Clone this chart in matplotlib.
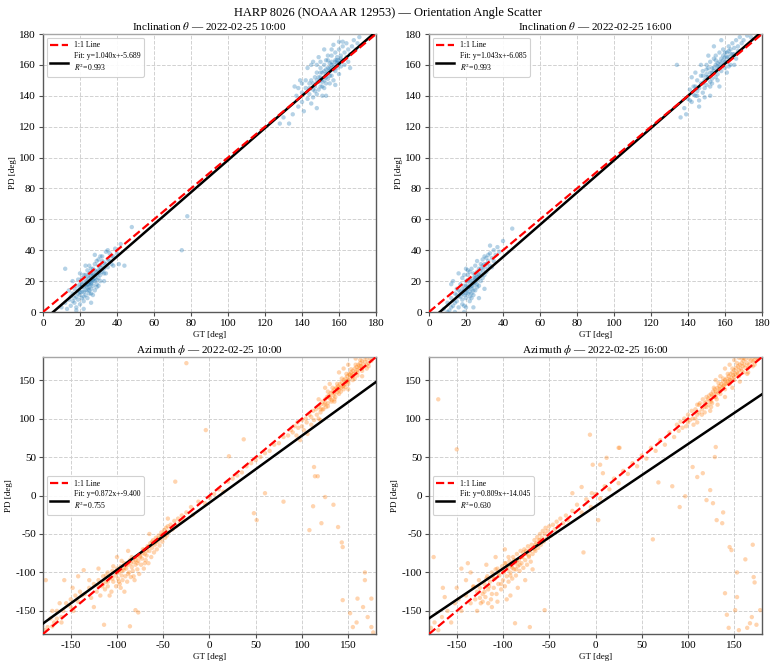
import matplotlib
matplotlib.use("Agg")
import matplotlib.pyplot as plt
import numpy as np

plt.rcParams['font.family'] = ['Liberation Serif', 'DejaVu Serif']
plt.rcParams['mathtext.fontset'] = 'stix'
plt.rcParams['axes.unicode_minus'] = False

# ---------------- data ----------------
suptitle = "HARP 8026 (NOAA AR 12953) — Orientation Angle Scatter"
titles = [r"Inclination $\theta$ — 2022-02-25 10:00", r"Inclination $\theta$ — 2022-02-25 16:00",
          r"Azimuth $\phi$ — 2022-02-25 10:00", r"Azimuth $\phi$ — 2022-02-25 16:00"]
fit_slopes = [1.040, 1.043, 0.872, 0.809]
fit_intercepts = [-5.689, -6.085, -9.400, -14.045]
fit_r2 = [0.993, 0.993, 0.755, 0.630]
inc_ticks = [0, 20, 40, 60, 80, 100, 120, 140, 160, 180]
azi_ticks = [-150, -100, -50, 0, 50, 100, 150]

inc10_low = [(14,8),(15,4),(16,12),(17,6),(17,15),(18,10),(18,3),(19,14),(19,8),(20,18),(20,11),(20,5),
             (21,16),(21,9),(21,22),(22,13),(22,19),(22,7),(23,17),(23,24),(23,11),(24,20),(24,14),(24,27),
             (24,9),(25,22),(25,16),(25,19),(25,30),(25,12),(26,21),(26,25),(26,15),(26,18),(27,23),(27,28),
             (27,17),(27,11),(28,24),(28,20),(28,31),(28,14),(29,26),(29,21),(29,33),(30,27),(30,22),(30,17),
             (30,34),(31,29),(31,24),(31,20),(32,30),(32,26),(32,36),(33,28),(33,32),(34,31),(34,25),(35,34),
             (35,29),(36,33),(36,38),(37,31),(38,36),(39,41),(40,38),(42,44),(12,28),(13,2),(16,20),(18,1),
             (22,2),(26,6),(20,25),(33,20),(28,37),(23,30),(35,40),(19,21),(48,55),(44,30),(24,18),(26,23),
             (27,20),(25,25),(29,18),(21,13),(23,21),(30,30),(18,17),(15,10),(31,36),(34,39),(41,31),
             (22,16),(23,18),(24,16),(25,18),(26,19),(27,21),(28,22),(25,14),(23,14),(21,18),(20,16),
             (22,24),(26,28),(28,27),(30,25),(32,33),(24,23),(27,25),(29,24),(31,27),(20,13),(19,12),
             (17,9),(16,7),(26,12),(29,16),(33,25),(22,10),(14,14),(12,6),(10,3),(37,36),(38,30)]
inc10_high = [(135,128),(137,140),(138,133),(140,142),(140,136),(141,130),(142,145),(143,138),(144,148),
              (144,141),(145,135),(145,150),(146,144),(146,139),(147,152),(147,146),(148,141),(148,155),
              (149,149),(149,144),(150,158),(150,152),(150,146),(151,140),(151,155),(152,150),(152,160),
              (152,145),(153,154),(153,148),(154,158),(154,163),(154,151),(155,156),(155,148),(155,161),
              (156,153),(156,166),(156,158),(157,160),(157,150),(158,163),(158,156),(158,168),(159,158),
              (159,165),(160,161),(160,154),(160,170),(161,166),(161,159),(162,163),(162,172),(163,168),
              (163,160),(164,165),(164,174),(165,170),(165,162),(166,167),(167,172),(168,176),(169,170),
              (170,174),(171,178),(130,126),(133,122),(128,122),(143,158),(146,162),(149,165),(152,170),
              (148,132),(153,140),(158,147),(162,175),(139,150),(157,173),(166,158),(150,162),(145,160),
              (75,40),(78,62),(154,166),(151,149),(156,162),(153,157),(159,161),
              (150,155),(152,156),(154,155),(156,160),(158,162),(148,150),(146,148),(150,150),(153,152),
              (155,158),(157,157),(160,163),(144,145),(147,143),(151,146),(149,152),(155,153),(159,163),
              (161,164),(153,163),(148,160),(156,170),(160,175),(142,150),(140,148),(138,145),(136,146)]

inc16_low = [(8,2),(10,6),(11,1),(12,9),(13,4),(14,12),(14,0),(15,7),(15,15),(16,10),(16,3),(17,13),
             (17,18),(18,8),(18,15),(18,22),(19,11),(19,17),(19,4),(20,14),(20,20),(20,9),(21,16),(21,24),
             (21,12),(22,18),(22,13),(22,26),(22,7),(23,20),(23,15),(23,28),(24,22),(24,17),(24,11),(25,24),
             (25,19),(25,30),(25,14),(26,26),(26,21),(26,33),(27,23),(27,28),(27,17),(28,25),(28,31),(28,20),
             (29,27),(29,34),(29,22),(30,29),(30,24),(30,36),(31,31),(31,26),(32,33),(32,28),(33,38),(33,30),
             (34,35),(35,33),(35,40),(36,37),(37,42),(38,39),(12,18),(16,25),(20,28),(24,3),(27,9),(30,15),
             (45,54),(40,46),(19,0),(23,9),(21,20),(25,22),(26,16),(24,25),(22,21),(20,3),(13,20),(33,43),
             (18,12),(19,14),(20,17),(21,15),(22,16),(23,17),(24,19),(25,21),(26,23),(27,24),(20,12),
             (18,5),(17,10),(16,14),(15,11),(23,12),(22,10),(24,14),(26,18),(28,28),(29,30),(30,31),
             (31,35),(32,37),(21,27),(19,24),(14,6),(12,3),(10,0),(34,29)]
inc16_high = [(138,132),(140,138),(141,144),(142,136),(143,146),(144,140),(145,150),(145,143),(146,137),
              (147,148),(147,153),(148,142),(148,156),(149,150),(149,145),(150,154),(150,160),(150,147),
              (151,152),(151,158),(152,149),(152,162),(153,155),(153,148),(154,158),(154,164),(155,152),
              (155,160),(155,166),(156,157),(156,150),(157,162),(157,168),(158,156),(158,164),(159,160),
              (159,170),(160,165),(160,158),(161,168),(161,162),(162,172),(162,165),(163,160),(163,170),
              (164,174),(164,167),(165,171),(166,176),(166,164),(167,172),(168,178),(169,174),(170,176),
              (172,179),(174,178),(144,155),(147,160),(151,166),(154,172),(158,176),(146,133),(152,140),
              (157,146),(161,155),(165,160),(134,160),(136,126),(139,128),(153,151),(156,161),(159,166),
              (149,139),(162,159),(142,152),
              (150,152),(152,155),(154,156),(156,159),(158,161),(160,162),(148,148),(146,145),(144,146),
              (153,158),(155,163),(157,159),(159,163),(161,165),(163,167),(150,157),(148,153),(152,146),
              (156,154),(160,168),(162,169),(145,140),(143,141),(141,137),(165,167),(167,169)]

azi10 = [(-135,-128),(-130,-120),(-128,-133),(-125,-115),(-122,-125),(-120,-110),(-118,-130),(-116,-118),
         (-115,-105),(-113,-122),(-112,-112),(-110,-100),(-110,-118),(-108,-108),(-106,-125),(-105,-98),
         (-104,-112),(-102,-104),(-101,-118),(-100,-95),(-99,-108),(-98,-100),(-97,-115),(-96,-92),
         (-95,-104),(-94,-110),(-93,-97),(-92,-88),(-91,-105),(-90,-95),(-89,-112),(-88,-90),(-87,-100),
         (-86,-84),(-85,-106),(-84,-93),(-83,-98),(-82,-86),(-81,-110),(-80,-90),(-79,-80),(-78,-96),
         (-77,-85),(-76,-102),(-75,-78),(-74,-90),(-73,-82),(-72,-75),(-71,-95),(-70,-70),(-69,-84),
         (-68,-78),(-67,-66),(-66,-88),(-65,-72),(-64,-62),(-63,-80),(-62,-68),(-61,-58),(-60,-74),
         (-59,-64),(-58,-55),(-57,-70),(-56,-60),(-55,-52),(-54,-65),(-53,-56),(-52,-48),(-51,-60),
         (-50,-50),(-49,-45),(-48,-55),(-47,-42),(-46,-52),(-45,-40),(-44,-47),(-42,-38),(-40,-44),
         (-38,-33),(-36,-40),(-34,-30),(-32,-35),(-30,-26),(-28,-32),
         (-25,-22),(-20,-15),(-18,-25),(-12,-8),(-5,-10),(0,-3),(5,2),(10,8),(15,5),(20,18),(25,22),
         (30,26),(35,30),(40,38),(45,42),(50,46),(55,50),(60,55),(65,58),(70,66),(75,68),(80,76),(85,78),
         (88,85),(90,82),(92,90),(94,78),(95,95),(96,88),(98,72),(100,98),(100,90),(102,85),(104,100),
         (105,95),(106,80),(108,105),(110,102),(110,92),(112,110),(113,98),(115,112),(116,105),(118,115),
         (118,100),(120,118),(120,108),(122,122),(123,112),(124,118),(125,125),(126,115),(127,128),
         (128,120),(129,130),(130,126),(131,133),(132,124),(133,135),(134,130),(135,138),(136,128),
         (137,140),(138,134),(139,142),(140,137),(141,145),(142,140),(143,147),(144,142),(145,150),
         (146,145),(147,152),(148,148),(149,155),(150,150),(151,158),(152,153),(153,160),(154,156),
         (155,162),(156,158),(157,165),(158,160),(159,167),(160,163),(161,170),(162,165),(163,172),
         (164,168),(165,175),(166,170),(168,174),(170,177),(172,172),(174,178),(140,160),(150,170),
         (130,145),(145,165),(158,178),(125,140),(120,98),(135,122),(150,138),(165,155),
         (113,37),(117,25),(112,-14),(125,-2),(134,-12),(108,-45),(121,-36),(139,-41),(143,-61),(144,-67),
         (168,-100),(168,-110),(144,-136),(160,-134),(175,-134),(152,-153),(155,-171),(166,-145),
         (171,-158),(175,-171),(177,-178),(159,-165),(80,-8),(60,3),(48,-23),(51,-32),(37,73),(-4,85),
         (21,51),(114,25),(-178,-175),(-175,-171),(-172,-160),(-168,-165),(-165,-150),(-160,-158),
         (-155,-140),(-150,-145),(-145,-130),(-140,-125),(-177,-110),(-157,-110),(-136,-97),(-130,-110),
         (-125,-145),(-114,-168),(-86,-170),(-80,-149),(-77,-152),(-37,18),(-25,172),(-92,-125),
         (-100,-80),(-88,-72),(-120,-95),(-108,-130),(-95,-85),(-82,-105),(-70,-88),(-65,-50),(-45,-30)]
azi10_dense = [(120,112),(125,120),(130,128),(135,133),(140,140),(145,143),(150,148),(155,155),(160,160),
               (165,165),(170,170),(128,135),(133,140),(138,145),(143,152),(148,158),(153,164),(158,170),
               (163,176),(135,125),(140,132),(145,138),(150,145),(155,150),(160,156),(165,162),(170,165),
               (175,175),(168,180),(172,168),(142,135),(147,141),(152,157),(157,152),(162,168),(118,125),
               (122,112),(128,116),(132,122),(138,138),
               (-100,-100),(-95,-98),(-90,-90),(-85,-88),(-80,-84),(-75,-80),(-70,-76),(-65,-66),(-60,-62),
               (-55,-56),(-105,-108),(-110,-112),(-115,-115),(-120,-118),(-88,-102),(-92,-94),(-78,-88),
               (-72,-70),(-68,-72),(-62,-60),(-58,-60),(-52,-52),(-98,-112),(-84,-80),(-96,-120),(-104,-92),
               (-112,-104),(-170,-170),(-165,-160),(-160,-165),(-162,-140),(-158,-150),(-150,-135),
               (-147,-150),(-142,-138),(-138,-130),(-148,-120),(-142,-105),(-170,-150)]

azi16 = [(-140,-130),(-135,-140),(-132,-118),(-130,-135),(-128,-125),(-126,-110),(-124,-140),(-122,-128),
         (-120,-115),(-119,-132),(-117,-105),(-116,-122),(-114,-112),(-113,-135),(-112,-100),(-110,-120),
         (-109,-108),(-107,-128),(-106,-95),(-105,-115),(-104,-104),(-102,-122),(-101,-92),(-100,-110),
         (-99,-100),(-98,-118),(-97,-88),(-96,-105),(-95,-96),(-94,-112),(-93,-85),(-92,-100),(-91,-92),
         (-90,-108),(-89,-80),(-88,-96),(-87,-88),(-86,-104),(-85,-76),(-84,-92),(-83,-84),(-82,-98),
         (-81,-72),(-80,-88),(-79,-80),(-78,-94),(-77,-70),(-76,-84),(-75,-76),(-74,-90),(-73,-66),
         (-72,-80),(-71,-72),(-70,-86),(-69,-64),(-68,-76),(-67,-68),(-66,-58),(-65,-72),(-64,-62),
         (-63,-54),(-62,-68),(-61,-58),(-60,-50),(-59,-64),(-58,-55),(-57,-46),(-56,-60),(-55,-50),
         (-54,-42),(-53,-56),(-52,-46),(-50,-40),(-48,-52),(-46,-38),(-44,-44),(-42,-34),(-40,-40),
         (-38,-30),(-35,-36),(-32,-26),(-30,-32),(-150,-120),(-145,-150),(-140,-110),(-135,-100),
         (-128,-150),(-118,-90),(-108,-80),(-98,-70),(-92,-130),(-84,-120),(-76,-110),(-68,-96),
         (-25,-20),(-20,-12),(-15,-22),(-10,-5),(-5,-15),(0,2),(5,-4),(10,12),(15,8),(20,22),(25,16),
         (30,32),(35,28),(40,42),(45,38),(50,52),(55,48),(60,62),(65,58),(70,72),(75,66),(80,82),(85,76),
         (88,92),(90,84),(92,96),(94,88),(96,100),(98,90),(100,105),(100,95),(102,98),(104,110),(105,100),
         (106,92),(108,112),(110,105),(110,118),(112,108),(113,120),(115,112),(116,125),(118,115),
         (118,108),(120,122),(120,128),(122,118),(123,130),(124,124),(125,132),(126,120),(127,135),
         (128,128),(129,138),(130,132),(131,125),(132,140),(133,134),(134,142),(135,136),(136,145),
         (137,140),(138,148),(139,143),(140,150),(141,145),(142,152),(143,148),(144,155),(145,150),
         (146,158),(147,153),(148,160),(149,156),(150,163),(151,158),(152,166),(153,160),(154,168),
         (155,163),(156,170),(157,165),(158,172),(159,168),(160,175),(161,170),(162,177),(164,172),
         (166,178),(168,175),(170,179),(172,176),(174,179),(150,176),(155,179),(145,170),(140,165),
         (160,179),(135,155),(130,150),(165,160),(110,95),(125,115),(130,63),(129,50),(105,37),(110,24),
         (116,29),(124,7),(120,-6),(127,-10),(131,-32),(137,-36),(138,-22),(91,-15),(97,-1),(83,12),
         (68,17),(62,-57),(145,-67),(147,-71),(162,-83),(170,-64),(153,-100),(171,-106),(172,-113),
         (140,-127),(153,-132),(142,-155),(151,-149),(169,-158),(174,-168),(164,-172),(144,-172),
         (178,-149),(155,-175),(167,-166),(-3,40),(5,40),(12,49),(8,29),(3,-32),(25,62),(-6,79),(26,62),
         (-175,-80),(-163,-132),(-132,-119),(-125,-133),(-112,-145),(-71,-171),(-55,-149),(-87,-166),
         (-13,-74),(-25,3),(-4,3),(-15,11),(-170,125),(-150,60),(-178,-172),(-174,-165),(-170,-175),
         (-166,-158),(-160,-150),(-156,-165),(-152,-140),(-148,-135),(-165,-120),(-145,-95),(-138,-88)]
azi16_dense = [(118,120),(122,126),(126,130),(130,135),(134,138),(138,142),(142,146),(146,150),(150,154),
               (154,158),(158,162),(162,166),(166,170),(170,174),(120,115),(125,122),(130,128),(135,132),
               (140,138),(145,145),(150,150),(155,155),(160,160),(165,166),(170,168),(128,140),(133,146),
               (138,152),(143,158),(148,165),(153,172),(158,178),(124,110),(132,118),(140,128),(148,140),
               (156,148),(164,158),(172,170),(176,178),(112,118),(108,100),(115,105),
               (-100,-98),(-95,-92),(-90,-94),(-85,-86),(-80,-80),(-75,-72),(-70,-70),(-65,-64),(-60,-58),
               (-105,-102),(-110,-108),(-115,-118),(-120,-125),(-125,-120),(-92,-104),(-88,-84),(-82,-90),
               (-78,-74),(-72,-78),(-66,-70),(-102,-115),(-108,-96),(-112,-128),(-118,-108),(-98,-88),
               (-94,-80),(-86,-96),(-122,-138),(-116,-140),(-106,-138),(-96,-135)]

# ---------------- plotting ----------------
fig = plt.figure(figsize=(7.76, 6.67), dpi=100)
W, H = 776, 667
boxes = [(43, 34, 376, 312), (429, 34, 762, 312), (43, 357, 376, 634), (429, 357, 762, 634)]

panels = [
    (inc10_low + inc10_high, '#1f77b4', (0, 180), inc_ticks, 'upper left'),
    (inc16_low + inc16_high, '#1f77b4', (0, 180), inc_ticks, 'upper left'),
    (azi10 + azi10_dense, '#ff7f0e', (-180, 180), azi_ticks, 'center left'),
    (azi16 + azi16_dense, '#ff7f0e', (-180, 180), azi_ticks, 'center left'),
]

for i, ((pts, col, lim, ticks, loc), (x0, y0, x1, y1)) in enumerate(zip(panels, boxes)):
    ax = fig.add_axes([x0 / W, 1 - y1 / H, (x1 - x0) / W, (y1 - y0) / H])
    arr = np.array(pts, dtype=float)
    ax.scatter(arr[:, 0], arr[:, 1], s=10, color=col, alpha=0.33, edgecolors='none', zorder=2)
    xs = np.array(lim, dtype=float)
    ax.plot(xs, xs, '--', color='red', lw=1.6, label='1:1 Line', zorder=4)
    ax.plot(xs, fit_slopes[i] * xs + fit_intercepts[i], '-', color='black', lw=1.8, zorder=3,
            label=f"Fit: y={fit_slopes[i]:.3f}x+{fit_intercepts[i]:.3f}\n$R^2$={fit_r2[i]:.3f}")
    ax.set_xlim(lim)
    ax.set_ylim(lim)
    ax.set_xticks(ticks)
    ax.set_yticks(ticks)
    ax.tick_params(labelsize=8, length=3, width=0.8, color='0.3', pad=2)
    ax.grid(True, ls='--', color='0.82', lw=0.7, zorder=0)
    ax.set_axisbelow(True)
    for s in ax.spines.values():
        s.set_color('0.35')
        s.set_linewidth(1.0)
    ax.spines['top'].set_color('0.65')
    ax.set_title(titles[i], fontsize=8, pad=3)
    ax.set_xlabel('GT [deg]', fontsize=6.5, labelpad=2)
    ax.set_ylabel('PD [deg]', fontsize=6.5, labelpad=2)
    leg = ax.legend(loc=loc, fontsize=5.6, frameon=True, framealpha=0.9, borderpad=0.45,
                    handlelength=2.2, labelspacing=0.3, handletextpad=0.8)
    leg.get_frame().set_edgecolor('0.8')
    leg.get_frame().set_linewidth(0.8)

fig.suptitle(suptitle, fontsize=9, y=0.989)
fig.savefig('out.png', dpi=100)
